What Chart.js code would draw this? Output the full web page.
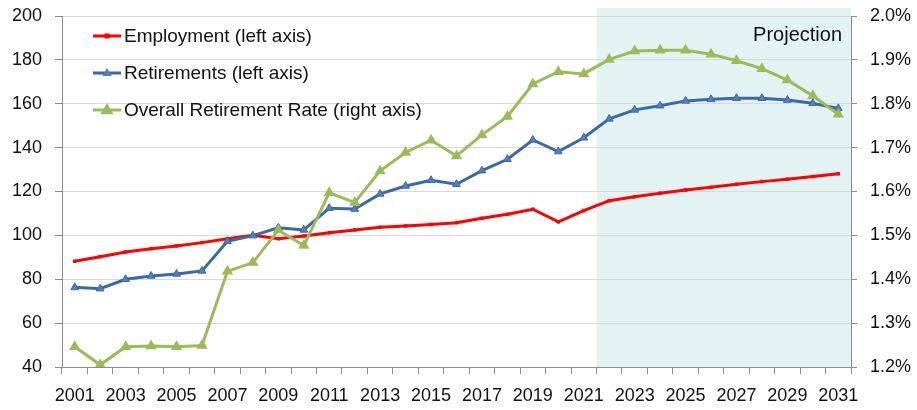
<!DOCTYPE html>
<html>
<head>
<meta charset="utf-8">
<script src="https://cdn.jsdelivr.net/npm/chart.js@4/dist/chart.umd.min.js"></script>
<style>
html,body{margin:0;padding:0;background:#fff;}
#wrap{width:917px;height:410px;position:relative;}
</style>
</head>
<body>
<div id="wrap"><canvas id="c" width="917" height="410"></canvas></div>
<script>
const years = ['2001','2002','2003','2004','2005','2006','2007','2008','2009','2010','2011','2012','2013','2014','2015','2016','2017','2018','2019','2020','2021','2022','2023','2024','2025','2026','2027','2028','2029','2030','2031'];
const employment = [88.2,90.3,92.4,93.9,95.2,96.7,98.5,100.0,98.5,99.7,101.2,102.5,103.7,104.3,105.0,105.8,107.8,109.6,111.9,106.2,111.3,115.8,117.6,119.2,120.7,121.9,123.3,124.5,125.6,126.8,128.1];
const retirements = [76.3,75.7,80.0,81.5,82.4,83.8,97.3,99.9,103.5,102.5,112.4,112.0,118.9,122.5,125.1,123.3,129.5,134.7,143.5,138.2,144.5,153.1,157.2,159.1,161.3,162.0,162.5,162.5,161.7,160.2,157.9];
const retirementRate = [1.246,1.205,1.246,1.248,1.246,1.249,1.418,1.438,1.512,1.477,1.597,1.575,1.647,1.689,1.717,1.681,1.729,1.771,1.845,1.873,1.868,1.901,1.920,1.922,1.922,1.913,1.898,1.880,1.854,1.818,1.776];
const leftTicks = {min:40, max:200, step:20};
const rightTicks = {min:1.2, max:2.0, step:0.1};
const projectionStart = '2022';
const seriesNames = ['Employment (left axis)','Retirements (left axis)','Overall Retirement Rate (right axis)'];
const projectionLabel = 'Projection';

const FONT = "'Liberation Sans', Arial, sans-serif";
const RED = '#ff0000', BLUE = '#3b69a3', BLUEFILL = '#4f81bd', GREEN = '#9bbb59';
const AXIS = '#8c8c8c', GRID = '#d9d9d9';

const shadePlugin = {
  id:'shade',
  beforeDraw(chart){
    const {ctx, chartArea, scales} = chart;
    const x = scales.x.getPixelForValue(years.indexOf(projectionStart) - 0.5);
    ctx.save();
    ctx.fillStyle = '#e3f3f3';
    ctx.fillRect(x, chartArea.top - 8, chartArea.right - x, chartArea.bottom - chartArea.top + 8);
    ctx.restore();
  },
  afterDraw(chart){
    const {ctx, chartArea} = chart;
    ctx.save();
    ctx.font = '20px ' + FONT;
    ctx.fillStyle = '#111';
    ctx.textAlign = 'right';
    ctx.textBaseline = 'middle';
    ctx.fillText(projectionLabel, chartArea.right - 9, chartArea.top + 19);
    // legend
    const items = [
      {c:RED, fill:RED, style:'rect', r:2.5},
      {c:BLUE, fill:BLUEFILL, style:'tri', r:5},
      {c:GREEN, fill:GREEN, style:'tri', r:7}
    ];
    ctx.font = '19px ' + FONT;
    ctx.textAlign = 'left';
    items.forEach((it, i) => {
      const y = chartArea.top + 20 + i * 37;
      const x0 = chartArea.left + 31, x1 = chartArea.left + 59, xm = (x0 + x1) / 2;
      ctx.strokeStyle = it.c; ctx.lineWidth = 3;
      ctx.beginPath(); ctx.moveTo(x0, y); ctx.lineTo(x1, y); ctx.stroke();
      ctx.fillStyle = it.fill;
      if (it.style === 'rect') {
        ctx.fillRect(xm - it.r, y - it.r, it.r * 2, it.r * 2);
      } else {
        const r = it.r;
        ctx.beginPath();
        ctx.moveTo(xm, y - r);
        ctx.lineTo(xm + r * 0.95, y + r * 0.6);
        ctx.lineTo(xm - r * 0.95, y + r * 0.6);
        ctx.closePath(); ctx.fill();
      }
      ctx.fillStyle = '#111';
      ctx.fillText(seriesNames[i], chartArea.left + 62, y + 1);
    });
    ctx.restore();
  }
};

const fixV = (w) => (s) => { s.width = w; s.paddingTop = 0; s.paddingBottom = 0; };

new Chart(document.getElementById('c'), {
  type:'line',
  data:{
    labels: years,
    datasets:[
      {label:seriesNames[0], data:employment, yAxisID:'y', borderColor:RED, backgroundColor:RED,
       borderWidth:3, pointStyle:'rect', pointRadius:2.5, pointBorderWidth:0, order:3, tension:0},
      {label:seriesNames[1], data:retirements, yAxisID:'y', borderColor:BLUE, backgroundColor:BLUEFILL,
       borderWidth:3, pointStyle:'triangle', pointRadius:4.5, pointBorderColor:BLUE, pointBorderWidth:1, order:2, tension:0},
      {label:seriesNames[2], data:retirementRate, yAxisID:'y1', borderColor:GREEN, backgroundColor:GREEN,
       borderWidth:3, pointStyle:'triangle', pointRadius:6.5, pointBorderWidth:0, order:1, tension:0}
    ]
  },
  options:{
    responsive:false,
    animation:false,
    devicePixelRatio:1,
    layout:{padding:{top:16,left:0,right:0,bottom:0}},
    plugins:{legend:{display:false}, tooltip:{enabled:false}},
    scales:{
      x:{
        type:'category', offset:true,
        grid:{offset:true, drawOnChartArea:false, tickLength:7, tickColor:AXIS, color:AXIS},
        border:{color:AXIS, width:1},
        ticks:{autoSkip:false, maxRotation:0, minRotation:0, padding:11, color:'#111',
          font:{family:FONT, size:18},
          callback:(v, i) => (i % 2 === 0 ? years[i] : '')},
        afterFit:(s) => { s.height = 43; s.paddingLeft = 0; s.paddingRight = 0; }
      },
      y:{
        position:'left', min:leftTicks.min, max:leftTicks.max,
        grid:{color:GRID, tickLength:7, tickColor:AXIS},
        border:{color:AXIS, width:1},
        ticks:{stepSize:leftTicks.step, padding:13, color:'#111', font:{family:FONT, size:18}},
        afterFit:fixV(62)
      },
      y1:{
        position:'right', min:rightTicks.min, max:rightTicks.max,
        grid:{drawOnChartArea:false, tickLength:6, tickColor:AXIS},
        border:{color:AXIS, width:1},
        ticks:{stepSize:rightTicks.step, padding:13, color:'#111', font:{family:FONT, size:18},
          callback:(v) => Number(v).toFixed(1) + '%'},
        afterFit:fixV(66)
      }
    }
  },
  plugins:[shadePlugin]
});
</script>
</body>
</html>
